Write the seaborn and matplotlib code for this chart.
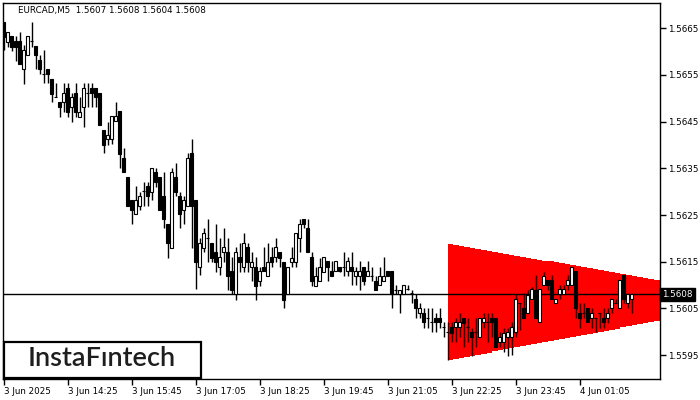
import numpy as np
import matplotlib
matplotlib.use("Agg")
import matplotlib.pyplot as plt
import matplotlib.transforms as mtransforms
from matplotlib.patches import Rectangle
import seaborn as sns

sns.set_theme(style="white")
plt.rcParams['font.family'] = ['DejaVu Sans']

# ---- EURCAD M5 candles (3 Jun 2025 13:05 -> 4 Jun 02:10) ----
opens = [
    1.56663, 1.56620, 1.56633, 1.56622, 1.56622, 1.56562, 1.56592, 1.56622, 1.56612, 1.56582,
    1.56552, 1.56562, 1.56541, 1.56502, 1.56492, 1.56492, 1.56522, 1.56481, 1.56511, 1.56460,
    1.56481, 1.56511, 1.56522, 1.56522, 1.56511, 1.56432, 1.56413, 1.56413, 1.56451, 1.56472,
    1.56372, 1.56331, 1.56282, 1.56252, 1.56269, 1.56301, 1.56312, 1.56299, 1.56342, 1.56331,
    1.56291, 1.56231, 1.56179, 1.56331, 1.56291, 1.56261, 1.56269, 1.56383, 1.56282, 1.56139,
    1.56179, 1.56201, 1.56190, 1.56171, 1.56139, 1.56171, 1.56171, 1.56130, 1.56081, 1.56160,
    1.56139, 1.56181, 1.56139, 1.56139, 1.56109, 1.56139, 1.56119, 1.56160, 1.56160, 1.56171,
    1.56149, 1.56081, 1.56149, 1.56149, 1.56201, 1.56241, 1.56222, 1.56160, 1.56098, 1.56109,
    1.56128, 1.56151, 1.56130, 1.56130, 1.56139, 1.56139, 1.56130, 1.56139, 1.56119, 1.56119,
    1.56139, 1.56119, 1.56119, 1.56109, 1.56100, 1.56109, 1.56130, 1.56130, 1.56089, 1.56081,
    1.56081, 1.56092, 1.56083, 1.56070, 1.56040, 1.56040, 1.56029, 1.56021, 1.56029, 1.56029,
    1.56010, 1.55999, 1.56010, 1.56010, 1.56010, 1.56029, 1.56010, 1.55999, 1.55999, 1.55989,
    1.56021, 1.56021, 1.56029, 1.56029, 1.55978, 1.55978, 1.55989, 1.55989, 1.55999, 1.56062,
    1.56051, 1.56040, 1.56070, 1.56089, 1.56021, 1.56100, 1.56111, 1.56111, 1.56062, 1.56081,
    1.56081, 1.56100, 1.56100, 1.56130, 1.56040, 1.56040, 1.56051, 1.56029, 1.56029, 1.56040,
    1.56029, 1.56029, 1.56051, 1.56062, 1.56051, 1.56122, 1.56062, 1.56070,
]
highs = [
    1.56663, 1.56642, 1.56633, 1.56633, 1.56642, 1.56614, 1.56633, 1.56663, 1.56612, 1.56592,
    1.56603, 1.56562, 1.56541, 1.56532, 1.56492, 1.56532, 1.56532, 1.56511, 1.56532, 1.56502,
    1.56532, 1.56532, 1.56532, 1.56522, 1.56511, 1.56432, 1.56449, 1.56462, 1.56492, 1.56472,
    1.56393, 1.56331, 1.56282, 1.56312, 1.56299, 1.56321, 1.56321, 1.56350, 1.56350, 1.56331,
    1.56342, 1.56231, 1.56350, 1.56361, 1.56299, 1.56291, 1.56383, 1.56413, 1.56282, 1.56201,
    1.56222, 1.56241, 1.56190, 1.56231, 1.56201, 1.56222, 1.56201, 1.56160, 1.56181, 1.56190,
    1.56211, 1.56190, 1.56171, 1.56160, 1.56139, 1.56181, 1.56190, 1.56181, 1.56201, 1.56171,
    1.56149, 1.56139, 1.56181, 1.56211, 1.56241, 1.56241, 1.56241, 1.56171, 1.56139, 1.56158,
    1.56160, 1.56151, 1.56151, 1.56151, 1.56139, 1.56171, 1.56160, 1.56171, 1.56139, 1.56151,
    1.56139, 1.56151, 1.56139, 1.56119, 1.56139, 1.56160, 1.56130, 1.56130, 1.56100, 1.56089,
    1.56100, 1.56100, 1.56089, 1.56081, 1.56062, 1.56051, 1.56051, 1.56051, 1.56040, 1.56051,
    1.56021, 1.56021, 1.56021, 1.56029, 1.56040, 1.56029, 1.56029, 1.56008, 1.56029, 1.56029,
    1.56040, 1.56040, 1.56040, 1.56029, 1.55999, 1.56008, 1.56008, 1.56021, 1.56081, 1.56062,
    1.56083, 1.56089, 1.56096, 1.56122, 1.56092, 1.56128, 1.56111, 1.56122, 1.56070, 1.56100,
    1.56100, 1.56122, 1.56139, 1.56130, 1.56062, 1.56062, 1.56051, 1.56051, 1.56029, 1.56040,
    1.56051, 1.56051, 1.56070, 1.56070, 1.56111, 1.56122, 1.56081, 1.56080,
]
lows = [
    1.56603, 1.56609, 1.56601, 1.56579, 1.56573, 1.56530, 1.56592, 1.56609, 1.56562, 1.56552,
    1.56532, 1.56532, 1.56492, 1.56502, 1.56460, 1.56470, 1.56460, 1.56449, 1.56460, 1.56460,
    1.56438, 1.56481, 1.56481, 1.56481, 1.56442, 1.56383, 1.56400, 1.56402, 1.56451, 1.56350,
    1.56342, 1.56269, 1.56231, 1.56252, 1.56261, 1.56269, 1.56269, 1.56282, 1.56310, 1.56261,
    1.56222, 1.56158, 1.56179, 1.56291, 1.56222, 1.56231, 1.56269, 1.56179, 1.56092, 1.56122,
    1.56171, 1.56149, 1.56149, 1.56128, 1.56122, 1.56149, 1.56089, 1.56081, 1.56068, 1.56128,
    1.56128, 1.56128, 1.56109, 1.56068, 1.56098, 1.56130, 1.56119, 1.56139, 1.56149, 1.56139,
    1.56051, 1.56081, 1.56139, 1.56139, 1.56171, 1.56222, 1.56171, 1.56098, 1.56098, 1.56109,
    1.56128, 1.56109, 1.56119, 1.56130, 1.56128, 1.56119, 1.56119, 1.56100, 1.56100, 1.56089,
    1.56100, 1.56119, 1.56109, 1.56089, 1.56100, 1.56109, 1.56119, 1.56051, 1.56081, 1.56040,
    1.56081, 1.56089, 1.56062, 1.56029, 1.56029, 1.56008, 1.56008, 1.55999, 1.55999, 1.56008,
    1.55989, 1.55940, 1.55978, 1.55978, 1.55989, 1.55967, 1.55978, 1.55948, 1.55967, 1.55989,
    1.56008, 1.55978, 1.55989, 1.55967, 1.55967, 1.55957, 1.55948, 1.55950, 1.55989, 1.56004,
    1.56029, 1.56040, 1.56070, 1.56029, 1.56021, 1.56100, 1.56089, 1.56070, 1.56062, 1.56070,
    1.56081, 1.56089, 1.56100, 1.56029, 1.56008, 1.56029, 1.56021, 1.56008, 1.55999, 1.56008,
    1.56008, 1.56019, 1.56040, 1.56062, 1.56051, 1.56062, 1.56051, 1.56040,
]
closes = [
    1.56631, 1.56642, 1.56609, 1.56609, 1.56573, 1.56603, 1.56633, 1.56622, 1.56592, 1.56562,
    1.56552, 1.56552, 1.56509, 1.56502, 1.56481, 1.56511, 1.56470, 1.56502, 1.56470, 1.56470,
    1.56522, 1.56511, 1.56511, 1.56502, 1.56442, 1.56400, 1.56421, 1.56462, 1.56462, 1.56380,
    1.56342, 1.56269, 1.56261, 1.56282, 1.56291, 1.56301, 1.56291, 1.56350, 1.56321, 1.56261,
    1.56241, 1.56190, 1.56342, 1.56299, 1.56252, 1.56282, 1.56372, 1.56269, 1.56149, 1.56190,
    1.56211, 1.56201, 1.56158, 1.56149, 1.56160, 1.56181, 1.56119, 1.56089, 1.56171, 1.56149,
    1.56190, 1.56149, 1.56149, 1.56098, 1.56130, 1.56130, 1.56149, 1.56149, 1.56181, 1.56158,
    1.56068, 1.56139, 1.56158, 1.56211, 1.56231, 1.56231, 1.56171, 1.56109, 1.56119, 1.56139,
    1.56160, 1.56139, 1.56119, 1.56151, 1.56130, 1.56139, 1.56151, 1.56130, 1.56130, 1.56130,
    1.56109, 1.56130, 1.56119, 1.56089, 1.56119, 1.56119, 1.56119, 1.56081, 1.56089, 1.56089,
    1.56100, 1.56092, 1.56083, 1.56051, 1.56051, 1.56021, 1.56029, 1.56021, 1.56021, 1.56021,
    1.56010, 1.55999, 1.55997, 1.56021, 1.56021, 1.56019, 1.56010, 1.55989, 1.55999, 1.56029,
    1.56029, 1.56021, 1.56021, 1.55967, 1.55989, 1.55997, 1.55999, 1.56010, 1.56070, 1.56062,
    1.56029, 1.56079, 1.56092, 1.56029, 1.56092, 1.56119, 1.56100, 1.56070, 1.56070, 1.56092,
    1.56092, 1.56111, 1.56139, 1.56051, 1.56029, 1.56040, 1.56021, 1.56040, 1.56029, 1.56040,
    1.56021, 1.56040, 1.56070, 1.56062, 1.56111, 1.56070, 1.56081, 1.56080,
]

# symmetrical triangle (start bar, end bar, upper line, lower line)
tri_bars = [111, 164]
tri_upper = [1.56188, 1.56109]
tri_lower = [1.55940, 1.56025]

last_price = 1.5608
price_ticks = [1.5595, 1.5605, 1.5615, 1.5625, 1.5635, 1.5645, 1.5655, 1.5665]
time_tick_bars = [0, 16, 32, 48, 64, 80, 96, 112, 128, 144]
time_tick_labels = ['3 Jun 2025', '3 Jun 14:25', '3 Jun 15:45', '3 Jun 17:05', '3 Jun 18:25',
                    '3 Jun 19:45', '3 Jun 21:05', '3 Jun 22:25', '3 Jun 23:45', '4 Jun 01:05']

o = np.array(opens)
h = np.array(highs)
l = np.array(lows)
c = np.array(closes)
x = np.arange(len(o))

fig = plt.figure(figsize=(7, 4), dpi=100)
fig.patch.set_facecolor('white')
ax = fig.add_axes([2.5 / 700, 21 / 400, 657 / 700, 376.5 / 400])
ax.set_facecolor('white')

# red triangle, drawn as a staircase like the terminal does
tx = np.linspace(tri_bars[0], tri_bars[1], 39)
tu = np.linspace(tri_upper[0], tri_upper[1], 39)
tl = np.linspace(tri_lower[0], tri_lower[1], 39)
ax.fill_between(tx, tl, tu, step='post', color='#ff0000', linewidth=0, zorder=1)

# current price line
ax.axhline(last_price, color='black', linewidth=1, zorder=2)

# candles
ax.vlines(x, l, h, color='black', linewidth=1, zorder=3)
body_bottom = np.minimum(o, c)
body_height = np.abs(c - o)
face = ['white' if cc > oo else 'black' for oo, cc in zip(o, c)]
ax.bar(x, body_height, bottom=body_bottom, width=0.7, color=face,
       edgecolor='black', linewidth=0.8, zorder=4)

ax.set_xlim(-0.25, 164)
ax.set_ylim(1.55899, 1.56705)

ax.yaxis.tick_right()
ax.set_yticks(price_ticks)
ax.set_yticklabels([f'{p:.4f}' for p in price_ticks])
ax.set_xticks(time_tick_bars)
ax.set_xticklabels(time_tick_labels, ha='left')
ax.tick_params(axis='both', direction='out', length=4, width=1, color='black',
               labelsize=6.3, labelcolor='black', pad=2)
ax.tick_params(axis='y', right=True, left=False)
ax.tick_params(axis='x', bottom=True)
for s in ax.spines.values():
    s.set_color('black')
    s.set_linewidth(1)
    s.set_visible(True)
ax.grid(False)

# price tag on the scale
trans = mtransforms.blended_transform_factory(ax.transAxes, ax.transData)
ax.text(1.004, last_price, f'{last_price:.4f}', transform=trans, fontsize=6.3,
        color='white', va='center', ha='left', zorder=10,
        bbox=dict(boxstyle='square,pad=0.25', facecolor='black', edgecolor='black'))

# header
fig.text(18 / 700, 1 - 11 / 400, 'EURCAD,M5  1.5607 1.5608 1.5604 1.5608',
         fontsize=6.3, color='black', va='center', ha='left')

# logo box
fig.patches.append(Rectangle((4 / 700, 22.5 / 400), 197 / 700, 36 / 400,
                             transform=fig.transFigure, facecolor='white',
                             edgecolor='black', linewidth=1.6, zorder=20))
fig.text(102 / 700, 1 - 359 / 400, 'InstaF\u0131ntech', fontsize=19.5,
         family=['Lato', 'DejaVu Sans'], fontweight='semibold', color='#1e1e1e',
         ha='center', va='center', zorder=21)

fig.savefig('out.png', dpi=100)
